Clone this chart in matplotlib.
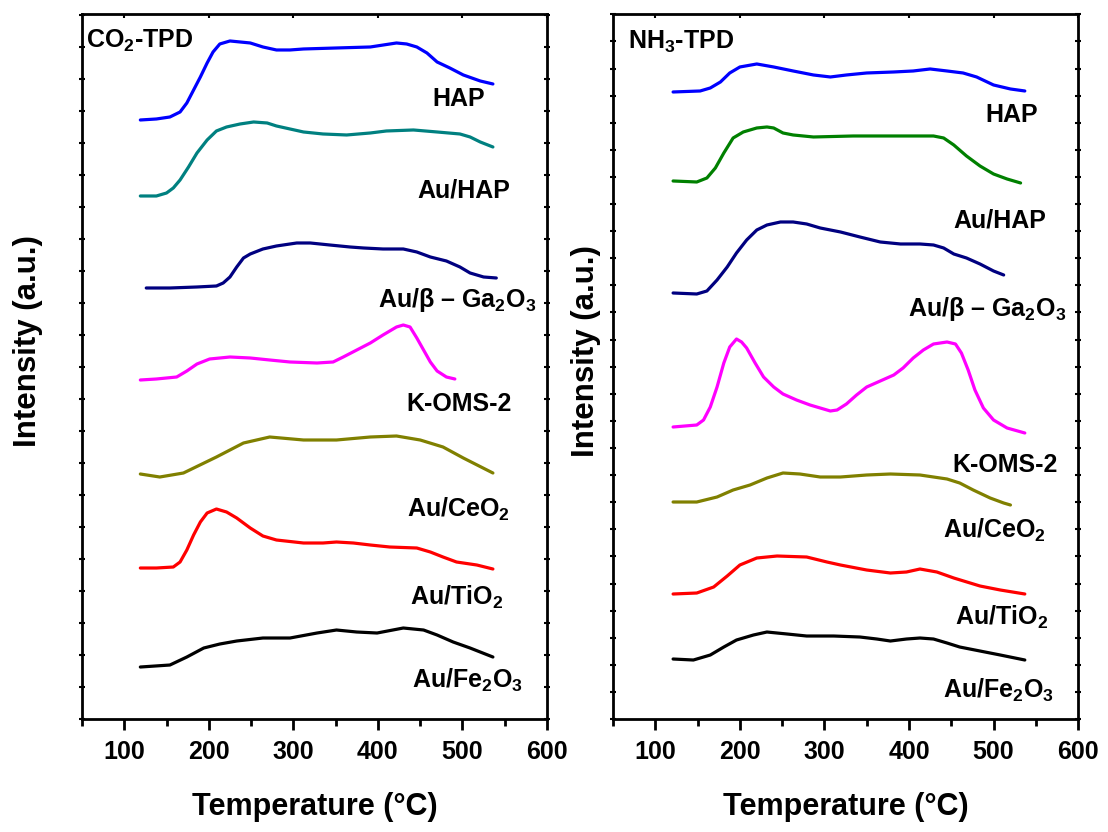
import matplotlib
matplotlib.use('Agg')
import matplotlib.pyplot as plt
from matplotlib.ticker import MultipleLocator

plt.rcParams['font.family'] = ['Liberation Sans', 'DejaVu Sans']
plt.rcParams['font.weight'] = 'bold'
plt.rcParams['mathtext.fontset'] = 'custom'
plt.rcParams['mathtext.rm'] = 'Liberation Sans:bold'
plt.rcParams['mathtext.bf'] = 'Liberation Sans:bold'

# ---- CO2-TPD (left panel) ----
co2_hap_T = [119, 138, 154, 166, 174, 182, 190, 198, 205, 213, 225, 237, 249, 264, 280, 296, 312, 351,
             391, 422, 434, 446, 458, 470, 485, 501, 521, 536]
co2_hap_I = [599, 600, 602, 607, 616, 629, 642, 656, 667, 675, 678, 677, 676, 672, 669, 669, 670, 671,
             672, 676, 675, 672, 666, 657, 651, 644, 638, 635]

co2_auhap_T = [119, 138, 150, 158, 166, 176, 186, 198, 209, 221, 237, 253, 269, 280, 296, 312, 335, 363,
               391, 410, 442, 470, 497, 509, 521, 536]
co2_auhap_I = [523, 523, 526, 531, 539, 552, 566, 579, 588, 592, 595, 597, 596, 593, 590, 587, 585, 584,
               586, 588, 589, 587, 585, 582, 577, 572]

co2_ga_T = [126, 154, 186, 209, 217, 225, 233, 241, 249, 264, 280, 304, 320, 343, 367, 383, 406, 430,
            446, 462, 481, 497, 509, 525, 540]
co2_ga_I = [431, 431, 432, 433, 436, 442, 452, 461, 465, 470, 473, 476, 476, 474, 472, 471, 470, 470,
            467, 462, 458, 452, 446, 442, 441]

co2_oms_T = [119, 138, 162, 174, 186, 201, 225, 249, 272, 296, 328, 347, 359, 375, 391, 406, 422, 430,
             438, 446, 454, 462, 470, 481, 491]
co2_oms_I = [339, 340, 342, 348, 355, 360, 362, 361, 359, 357, 356, 357, 362, 369, 376, 384, 392, 394,
             392, 381, 369, 357, 348, 342, 340]

co2_ce_T = [119, 142, 170, 209, 241, 272, 312, 351, 391, 422, 450, 477, 501, 536]
co2_ce_I = [245, 242, 246, 262, 276, 282, 279, 279, 282, 283, 279, 272, 261, 246]

co2_ti_T = [119, 138, 158, 166, 174, 182, 190, 198, 209, 221, 233, 249, 264, 280, 312, 335, 351, 371,
            391, 414, 446, 462, 477, 493, 517, 536]
co2_ti_I = [151, 151, 152, 157, 169, 184, 197, 206, 210, 207, 201, 191, 183, 179, 176, 176, 177, 176,
            174, 172, 171, 167, 162, 157, 154, 150]

co2_fe_T = [119, 154, 174, 194, 213, 233, 264, 296, 328, 351, 375, 399, 430, 454, 470, 489, 509, 536]
co2_fe_I = [52, 54, 62, 71, 75, 78, 81, 81, 86, 89, 87, 86, 91, 89, 84, 77, 71, 62]

# ---- NH3-TPD (right panel) ----
nh3_hap_T = [121, 153, 165, 177, 188, 200, 220, 240, 263, 287, 307, 326, 350, 382, 405, 425, 445, 464,
             480, 500, 520, 537]
nh3_hap_I = [627, 628, 631, 637, 646, 652, 655, 652, 648, 644, 642, 644, 646, 647, 648, 650, 648, 646,
             642, 634, 630, 628]

nh3_auhap_T = [121, 149, 161, 171, 181, 192, 204, 220, 232, 240, 251, 263, 287, 334, 382, 429, 441, 453,
               468, 484, 500, 516, 532]
nh3_auhap_I = [538, 537, 541, 551, 566, 581, 587, 591, 592, 591, 586, 584, 582, 583, 583, 583, 581, 574,
               563, 553, 545, 540, 536]

nh3_ga_T = [121, 149, 161, 173, 185, 196, 208, 220, 232, 248, 263, 279, 295, 319, 342, 366, 390, 413,
            429, 441, 453, 468, 484, 500, 512]
nh3_ga_I = [426, 425, 428, 439, 452, 466, 479, 489, 494, 497, 497, 495, 491, 487, 482, 477, 475, 475,
            474, 471, 465, 461, 455, 448, 444]

nh3_oms_T = [121, 149, 157, 165, 173, 181, 188, 196, 202, 208, 218, 228, 240, 251, 267, 283, 299, 307,
             315, 326, 338, 350, 366, 382, 393, 405, 417, 429, 445, 455, 462, 470, 478, 488, 500, 516, 537]
nh3_oms_I = [292, 294, 299, 312, 332, 356, 372, 380, 377, 371, 356, 342, 332, 325, 319, 314, 310, 308,
             309, 315, 324, 332, 338, 344, 351, 361, 369, 375, 377, 375, 366, 349, 329, 311, 299, 291, 286]

nh3_ce_T = [121, 149, 173, 192, 212, 232, 251, 271, 295, 319, 350, 378, 413, 445, 460, 476, 496, 512, 520]
nh3_ce_I = [217, 217, 222, 229, 234, 241, 246, 245, 242, 242, 244, 245, 244, 240, 236, 229, 221, 216, 214]

nh3_ti_T = [121, 149, 169, 185, 200, 220, 244, 279, 303, 319, 350, 378, 397, 413, 433, 453, 484, 508, 537]
nh3_ti_I = [125, 126, 132, 143, 154, 161, 163, 162, 157, 154, 149, 146, 147, 150, 147, 141, 133, 129, 125]

nh3_fe_T = [121, 145, 165, 181, 196, 216, 232, 256, 279, 311, 342, 362, 378, 397, 413, 429, 445, 460,
            484, 508, 537]
nh3_fe_I = [60, 59, 64, 72, 79, 84, 87, 85, 83, 83, 82, 80, 78, 80, 81, 80, 76, 72, 68, 64, 59]

labels = ['HAP', 'Au/HAP', r'Au/β – Ga$_\mathbf{2}$O$_\mathbf{3}$', 'K-OMS-2',
          r'Au/CeO$_\mathbf{2}$', r'Au/TiO$_\mathbf{2}$', r'Au/Fe$_\mathbf{2}$O$_\mathbf{3}$']

co2_curves = [(co2_hap_T, co2_hap_I), (co2_auhap_T, co2_auhap_I), (co2_ga_T, co2_ga_I),
              (co2_oms_T, co2_oms_I), (co2_ce_T, co2_ce_I), (co2_ti_T, co2_ti_I), (co2_fe_T, co2_fe_I)]
nh3_curves = [(nh3_hap_T, nh3_hap_I), (nh3_auhap_T, nh3_auhap_I), (nh3_ga_T, nh3_ga_I),
              (nh3_oms_T, nh3_oms_I), (nh3_ce_T, nh3_ce_I), (nh3_ti_T, nh3_ti_I), (nh3_fe_T, nh3_fe_I)]

co2_colors = ['#0000ff', '#008080', '#000080', '#ff00ff', '#808000', '#ff0000', '#000000']
nh3_colors = ['#0000ff', '#008000', '#000080', '#ff00ff', '#808000', '#ff0000', '#000000']

co2_label_pos = [(464, 613), (447, 521), (400, 412), (434, 308), (434, 202), (438, 114), (440, 31)]
nh3_label_pos = [(490, 597), (452, 491), (399, 403), (451, 247), (440, 181), (455, 94), (440, 21)]

fig = plt.figure(figsize=(11.08, 8.32), dpi=100)
ax1 = fig.add_axes([0.0740, 0.1358, 0.4197, 0.8474])
ax2 = fig.add_axes([0.5533, 0.1358, 0.4197, 0.8474])


def draw(ax, curves, colors, pos, title, title_pos, ytick_step):
    for (T, I), c in zip(curves, colors):
        ax.plot(T, I, color=c, lw=2.3, solid_capstyle='round', solid_joinstyle='round')
    for lab, (x, y) in zip(labels, pos):
        ax.text(x, y, lab, fontsize=18, fontweight='bold', va='baseline', ha='left')
    ax.text(title_pos[0], title_pos[1], title, fontsize=18, fontweight='bold', va='baseline', ha='left')
    ax.set_xlim(50, 600)
    ax.set_ylim(0, 705)
    ax.xaxis.set_major_locator(MultipleLocator(100))
    ax.xaxis.set_minor_locator(MultipleLocator(50))
    ax.yaxis.set_major_locator(MultipleLocator(ytick_step))
    ax.tick_params(axis='x', which='major', direction='out', length=8, width=2,
                   labelsize=18, pad=7, top=False)
    ax.tick_params(axis='x', which='minor', direction='out', length=5, width=2, top=False)
    ax.tick_params(axis='y', which='major', direction='inout', length=4, width=1.5,
                   left=True, right=True, labelleft=False)
    ax.secondary_xaxis('top').tick_params(which='both', direction='in', length=3, width=1.5,
                                          labeltop=False)
    for lab in ax.get_xticklabels():
        lab.set_fontweight('bold')
    for s in ax.spines.values():
        s.set_linewidth(2)
    ax.set_xlabel('Temperature (°C)', fontsize=22, fontweight='bold', labelpad=20)


draw(ax1, co2_curves, co2_colors, co2_label_pos, r'CO$_\mathbf{2}$-TPD', (55, 671), 32)
draw(ax2, nh3_curves, nh3_colors, nh3_label_pos, r'NH$_\mathbf{3}$-TPD', (68, 670), 27.1)

fig.text(0.025, 0.59, 'Intensity (a.u.)', rotation=90, fontsize=22.5, fontweight='bold',
         ha='center', va='center')
fig.text(0.529, 0.578, 'Intensity (a.u.)', rotation=90, fontsize=22.5, fontweight='bold',
         ha='center', va='center')

fig.savefig('out.png', dpi=100)
